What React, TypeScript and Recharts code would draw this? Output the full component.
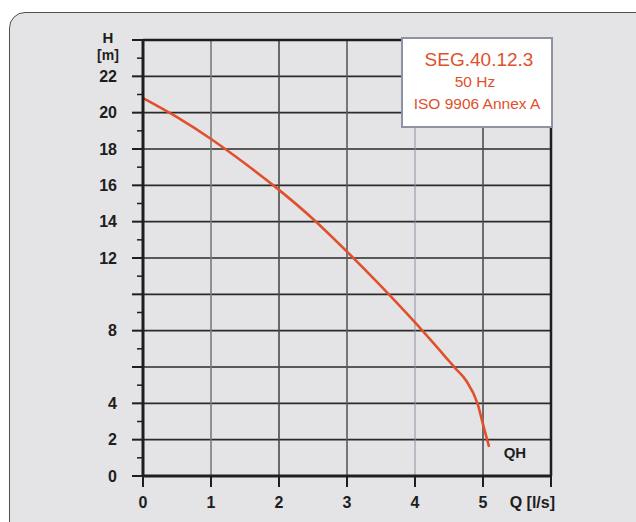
import React from 'react';
import { LineChart, Line, XAxis, YAxis, ReferenceLine, ReferenceDot } from 'recharts';

// QH curve
const flowQ = [0, 0.5, 1, 1.5, 2, 2.5, 3, 3.5, 4, 4.5, 4.6, 4.75, 4.92, 5.01, 5.09];
const headH = [20.8, 19.75, 18.55, 17.2, 15.75, 14.15, 12.35, 10.45, 8.45, 6.33, 5.9, 5.26, 3.98, 2.7, 1.6];

const xTicks = [0, 1, 2, 3, 4, 5, 6];
const xTickLabels = ['0', '1', '2', '3', '4', '5', 'Q [l/s]'];
const yTicks = [0, 1, 2, 3, 4, 5, 6, 7, 8, 9, 10, 11, 12, 13, 14, 15, 16, 17, 18, 19, 20, 21, 22, 23, 24];
const yLabeled = [0, 2, 4, 8, 12, 14, 16, 18, 20, 22];
const hGrid = [2, 4, 6, 8, 10, 12, 14, 16, 18, 20, 22];
const qGrid = [1, 2, 3, 4, 5];

const titleLines = ['SEG.40.12.3', '50 Hz', 'ISO 9906 Annex A'];
const curveName = 'QH';

const data = flowQ.map((q, i) => ({ q, h: headH[i] }));

const RED = '#e1502c';
const INK = '#1e1e1e';
const FONT = '"Liberation Sans", Arial, Helvetica, sans-serif';
const qGridColors = ['#7a7a7a', '#4a4a4a', '#5a5a5a', '#8d92a2', '#4e4e4e'];

const YTick = (props: any) => {
  const { x, y, payload } = props;
  const v = payload.value;
  const major = v % 2 === 0;
  let label: React.ReactNode = null;
  if (v === 24) {
    label = (
      <g>
        <text x={x - 35} y={y - 3} textAnchor="middle" dominantBaseline="central" fontSize={15} fontWeight="bold" fill={INK} fontFamily={FONT}>H</text>
        <text x={x - 35} y={y + 15} textAnchor="middle" dominantBaseline="central" fontSize={14} fontWeight="bold" fill={INK} fontFamily={FONT}>[m]</text>
      </g>
    );
  } else if (yLabeled.includes(v)) {
    label = (
      <text x={x - 26} y={y} textAnchor="end" dominantBaseline="central" fontSize={16} fontWeight="bold" fill={INK} fontFamily={FONT}>{String(v)}</text>
    );
  }
  return (
    <g>
      <line x1={x - (major ? 11 : 6)} x2={x} y1={y} y2={y} stroke={INK} strokeWidth={major ? 2 : 1.5} />
      {label}
    </g>
  );
};

const XTick = (props: any) => {
  const { x, y, payload, index } = props;
  const last = payload.value === 6;
  return (
    <g>
      <line x1={x} x2={x} y1={y} y2={y + 11} stroke={INK} strokeWidth={2} />
      <text x={last ? x + 4 : x} y={y + 26} textAnchor={last ? 'end' : 'middle'} dominantBaseline="central" fontSize={16} fontWeight="bold" fill={INK} fontFamily={FONT}>
        {xTickLabels[index] ?? String(payload.value)}
      </text>
    </g>
  );
};

export default function App() {
  return (
    <div style={{ position: 'fixed', left: 0, top: 0, width: 636, height: 522, overflow: 'hidden', background: '#ffffff' }}>
      <div
        style={{
          position: 'absolute',
          left: 9,
          top: 12,
          width: 720,
          height: 600,
          boxSizing: 'border-box',
          border: '1.5px solid #505050',
          borderRadius: 16,
          background: '#e4e4e6',
        }}
      />
      <div style={{ position: 'absolute', left: 0, top: 0 }}>
        <LineChart width={636} height={522} data={data} margin={{ top: 40, right: 85, left: 83, bottom: 6 }}>
          <XAxis
            dataKey="q"
            type="number"
            domain={[0, 6]}
            ticks={xTicks}
            interval={0}
            height={40}
            tickSize={0}
            tickMargin={0}
            tickLine={false}
            axisLine={{ stroke: INK, strokeWidth: 3 }}
            tick={<XTick />}
          />
          <YAxis
            type="number"
            domain={[0, 24]}
            ticks={yTicks}
            interval={0}
            width={60}
            tickSize={0}
            tickMargin={0}
            tickLine={false}
            axisLine={{ stroke: INK, strokeWidth: 3 }}
            tick={<YTick />}
          />
          {hGrid.map((h) => (
            <ReferenceLine key={'h' + h} y={h} stroke="#2a2a2a" strokeWidth={1.6} />
          ))}
          {qGrid.map((q, i) => (
            <ReferenceLine key={'q' + q} x={q} stroke={qGridColors[i]} strokeWidth={q === 4 ? 1 : 1.6} />
          ))}
          <ReferenceLine y={24} stroke={INK} strokeWidth={2.5} />
          <ReferenceLine x={6} stroke={INK} strokeWidth={2.5} />
          <Line type="monotone" dataKey="h" stroke={RED} strokeWidth={2.6} dot={false} isAnimationActive={false} />
          <ReferenceDot
            x={5.47}
            y={1.3}
            r={0}
            label={{ value: curveName, position: 'center', fontSize: 15, fontWeight: 'bold', fill: INK, fontFamily: FONT }}
          />
        </LineChart>
      </div>
      <div
        style={{
          position: 'absolute',
          left: 401,
          top: 37,
          width: 152,
          height: 91,
          boxSizing: 'border-box',
          border: '2px solid #8e93a3',
          background: '#ffffff',
          color: RED,
          fontFamily: FONT,
          textAlign: 'center',
        }}
      >
        <div style={{ position: 'absolute', left: 0, right: 0, top: 10, fontSize: 19, lineHeight: '22px', paddingLeft: 4 }}>{titleLines[0]}</div>
        <div style={{ position: 'absolute', left: 0, right: 0, top: 34, fontSize: 15.5, lineHeight: '18px', paddingRight: 4 }}>{titleLines[1]}</div>
        <div style={{ position: 'absolute', left: 0, right: 0, top: 56, fontSize: 15.5, lineHeight: '18px' }}>{titleLines[2]}</div>
      </div>
    </div>
  );
}
